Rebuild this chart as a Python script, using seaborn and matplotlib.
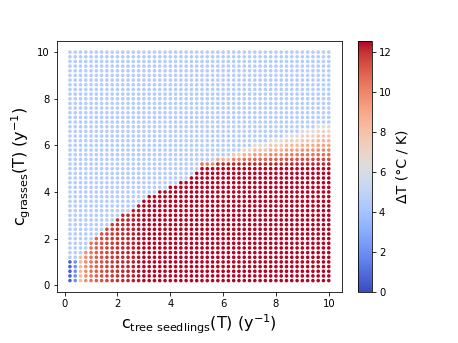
import numpy as np
import pandas as pd
import matplotlib
matplotlib.use("Agg")
import matplotlib.pyplot as plt
import seaborn as sns
from matplotlib.cm import ScalarMappable
from matplotlib.colors import Normalize

# grid of tree-seedling (x) and grass (y) mortality rates
c_tree = [0.2, 0.4, 0.6, 0.8, 1.0, 1.2, 1.4, 1.6, 1.8, 2.0,
          2.2, 2.4, 2.6, 2.8, 3.0, 3.2, 3.4, 3.6, 3.8, 4.0,
          4.2, 4.4, 4.6, 4.8, 5.0, 5.2, 5.4, 5.6, 5.8, 6.0,
          6.2, 6.4, 6.6, 6.8, 7.0, 7.2, 7.4, 7.6, 7.8, 8.0,
          8.2, 8.4, 8.6, 8.8, 9.0, 9.2, 9.4, 9.6, 9.8, 10.0]
c_grass = list(c_tree)

# highest grass value (per tree column) that is not in the light-blue plateau
nonblue_top = [1.0, 1.0, 1.2, 1.4, 1.8, 2.0, 2.2, 2.4, 2.6, 2.8,
               3.0, 3.0, 3.2, 3.4, 3.6, 3.8, 3.8, 4.0, 4.0, 4.2,
               4.2, 4.4, 4.4, 4.6, 4.8, 5.2, 5.2, 5.2, 5.4, 5.4,
               5.4, 5.6, 5.6, 5.8, 5.8, 6.0, 6.0, 6.0, 6.2, 6.2,
               6.2, 6.4, 6.4, 6.4, 6.6, 6.6, 6.6, 6.8, 6.8, 6.8]
# highest grass value of the saturated block
crimson_top = [1.0, 1.0, 1.2, 1.4, 1.8, 2.0, 2.2, 2.4, 2.6, 2.8,
               3.0, 3.0, 3.2, 3.4, 3.6, 3.8, 3.8, 4.0, 4.0, 4.2,
               4.2, 4.4, 4.4, 4.6, 4.8, 5.0, 5.0, 5.0, 5.0, 5.0,
               5.0, 5.0, 5.0, 5.0, 5.0, 5.0, 5.0, 5.0, 5.0, 5.0,
               5.0, 5.0, 5.0, 5.0, 5.0, 5.0, 5.0, 5.0, 5.0, 5.0]
# ΔT of the block below the boundary, per column
column_value = [0.6, 2.0, 8.3, 9.8, 10.5, 11.0, 11.3, 11.6, 11.8, 12.0,
                12.1, 12.2, 12.3, 12.4, 12.55, 12.55, 12.55, 12.55, 12.55, 12.55,
                12.55, 12.55, 12.55, 12.55, 12.55, 12.55, 12.55, 12.55, 12.55, 12.55,
                12.55, 12.55, 12.55, 12.55, 12.55, 12.55, 12.55, 12.55, 12.55, 12.55,
                12.55, 12.55, 12.55, 12.55, 12.55, 12.55, 12.55, 12.55, 12.55, 12.55]
# ΔT of the topmost row of the transition band, per column
band_top_value = [12.55] * 25 + [10.5, 10.3, 10.0, 9.0, 8.7,
                                 8.4, 8.0, 7.7, 7.2, 7.0,
                                 6.8, 6.7, 6.6, 6.5, 6.5,
                                 6.4, 6.4, 6.4, 6.4, 6.3,
                                 6.3, 6.3, 6.3, 6.3, 6.3]
band_bottom_value = 12.2
blue_value = 4.6
dt_min, dt_max = 0.0, 12.55

rows = []
for i, x in enumerate(c_tree):
    for y in c_grass:
        if y > nonblue_top[i] + 1e-9:
            v = blue_value
        elif y <= crimson_top[i] + 1e-9:
            v = column_value[i]
        else:
            n = int(round((nonblue_top[i] - crimson_top[i]) / 0.2))
            k = int(round((y - crimson_top[i]) / 0.2))
            if n == 1:
                v = band_top_value[i]
            else:
                v = band_bottom_value + (band_top_value[i] - band_bottom_value) * (k - 1) / (n - 1)
        rows.append((x, y, v))
df = pd.DataFrame(rows, columns=["tree", "grass", "dT"])

W, H = 458, 343
fig = plt.figure(figsize=(W / 72, H / 72), dpi=72)
ax = fig.add_axes([57 / W, 1 - 292 / H, (341.7 - 57) / W, (292 - 40.7) / H])
sns.scatterplot(data=df, x="tree", y="grass", hue="dT", palette="coolwarm",
                hue_norm=(dt_min, dt_max), s=13, linewidth=0, legend=False, ax=ax)
ax.set_xticks([0, 2, 4, 6, 8, 10])
ax.set_yticks([0, 2, 4, 6, 8, 10])
ax.tick_params(labelsize=10)
ax.set_xlabel(r"c$_{\mathrm{tree\ seedlings}}$(T) (y$^{-1}$)", fontsize=16)
ax.set_ylabel(r"c$_{\mathrm{grasses}}$(T) (y$^{-1}$)", fontsize=16)

cax = fig.add_axes([358 / W, 1 - 292 / H, 14 / W, (292 - 40.7) / H])
sm = ScalarMappable(norm=Normalize(dt_min, dt_max), cmap="coolwarm")
cb = fig.colorbar(sm, cax=cax)
cb.set_ticks([0, 2, 4, 6, 8, 10, 12])
cb.ax.tick_params(labelsize=10)
cb.set_label("ΔT (°C / K)", fontsize=14)

fig.savefig("out.png", dpi=72)
